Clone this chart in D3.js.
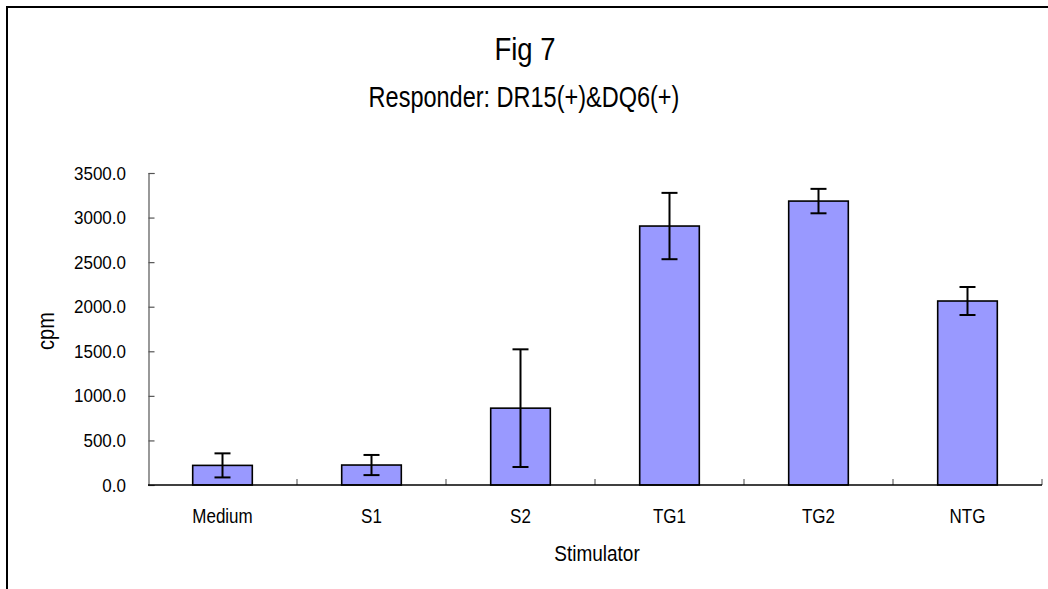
<!DOCTYPE html>
<html>
<head>
<meta charset="utf-8">
<script src="https://cdn.jsdelivr.net/npm/d3@7"></script>
<style>
  html, body { margin: 0; padding: 0; background: #fff; }
  svg { display: block; }
  text { font-family: "Liberation Sans", Arial, sans-serif; fill: #000; }
</style>
</head>
<body>
<svg id="chart" width="1048" height="589"></svg>
<script>
// Stimulator categories and mean cpm with standard deviation
const categories = ["Medium", "S1", "S2", "TG1", "TG2", "NTG"];
const means = [220, 224, 862, 2905, 3185, 2064];
const errors = [135, 113, 660, 372, 137, 157];
const yTicks = [0, 500, 1000, 1500, 2000, 2500, 3000, 3500];

const titleLine1 = "Fig 7";
const titleLine2 = "Responder: DR15(+)&DQ6(+)";
const xTitle = "Stimulator";
const yTitle = "cpm";

const svg = d3.select("#chart");

// plot area
const plot = { left: 148, right: 1042, top: 173, bottom: 485 };

const x = d3.scaleBand()
  .domain(categories)
  .range([plot.left, plot.right])
  .paddingInner(0.6)
  .paddingOuter(0.3);

const y = d3.scaleLinear()
  .domain([0, 3500])
  .range([plot.bottom, plot.top]);

// outer chart frame (extends past the window on the right and bottom)
svg.append("rect")
  .attr("x", 7).attr("y", 7)
  .attr("width", 1200).attr("height", 800)
  .attr("fill", "none")
  .attr("stroke", "#000")
  .attr("stroke-width", 2);

// text with its glyphs scaled independently in x and y
function scaledText(g, tx, ty, str, size, sx, sy, anchor) {
  return g.append("text")
    .attr("transform", `translate(${tx},${ty}) scale(${sx},${sy})`)
    .attr("text-anchor", anchor || "middle")
    .attr("font-size", size)
    .text(str);
}

scaledText(svg, 525, 60, titleLine1, 27.5, 1, 1.13);
scaledText(svg, 524, 107, titleLine2, 23.5, 1, 1.25);

// bars
svg.append("g").selectAll("rect")
  .data(categories)
  .join("rect")
  .attr("x", d => x(d))
  .attr("y", (d, i) => y(means[i]))
  .attr("width", x.bandwidth())
  .attr("height", (d, i) => y(0) - y(means[i]))
  .attr("fill", "#9999FF")
  .attr("stroke", "#000")
  .attr("stroke-width", 1.6);

// error bars
const capHalf = 8;
const eb = svg.append("g")
  .attr("stroke", "#000")
  .attr("stroke-width", 2);
categories.forEach((c, i) => {
  const cx = x(c) + x.bandwidth() / 2;
  const hi = y(means[i] + errors[i]);
  const lo = y(means[i] - errors[i]);
  eb.append("line").attr("x1", cx).attr("x2", cx).attr("y1", hi).attr("y2", lo);
  eb.append("line").attr("x1", cx - capHalf).attr("x2", cx + capHalf).attr("y1", hi).attr("y2", hi);
  eb.append("line").attr("x1", cx - capHalf).attr("x2", cx + capHalf).attr("y1", lo).attr("y2", lo);
});

// y axis: ticks point into the plot
const yAxis = d3.axisRight(y)
  .tickValues(yTicks)
  .tickSize(6)
  .tickFormat("");
const yg = svg.append("g")
  .attr("transform", `translate(${plot.left + 0.5},0)`)
  .call(yAxis);
yg.select(".domain").attr("stroke", "#555").attr("stroke-width", 1.2);
yg.selectAll(".tick line").attr("stroke", "#555").attr("stroke-width", 1.2);

svg.append("g").selectAll("text")
  .data(yTicks)
  .join("text")
  .attr("transform", d => `translate(126,${y(d) + 6.5}) scale(1,1.05)`)
  .attr("text-anchor", "end")
  .attr("font-size", 17)
  .text(d => d3.format(".1f")(d));

// x axis: category boundary ticks point up into the plot
const step = x.step();
const boundaries = d3.range(1, categories.length + 1).map(k => plot.left + k * step);
const xg = svg.append("g");
xg.selectAll("line.bt")
  .data(boundaries)
  .join("line")
  .attr("class", "bt")
  .attr("x1", d => d).attr("x2", d => d)
  .attr("y1", plot.bottom).attr("y2", plot.bottom - 6)
  .attr("stroke", "#666").attr("stroke-width", 1.2);
xg.append("line")
  .attr("x1", plot.left).attr("x2", plot.right)
  .attr("y1", plot.bottom).attr("y2", plot.bottom)
  .attr("stroke", "#000").attr("stroke-width", 1.6);

svg.append("g").selectAll("text")
  .data(categories)
  .join("text")
  .attr("transform", d => `translate(${x(d) + x.bandwidth() / 2},523) scale(1,1.2)`)
  .attr("text-anchor", "middle")
  .attr("font-size", 17)
  .text(d => d);

// axis titles
scaledText(svg, 597, 561, xTitle, 19, 1, 1.2);
svg.append("text")
  .attr("transform", `translate(54,331) rotate(-90) scale(1,1.15)`)
  .attr("text-anchor", "middle")
  .attr("font-size", 20)
  .text(yTitle);
</script>
</body>
</html>
